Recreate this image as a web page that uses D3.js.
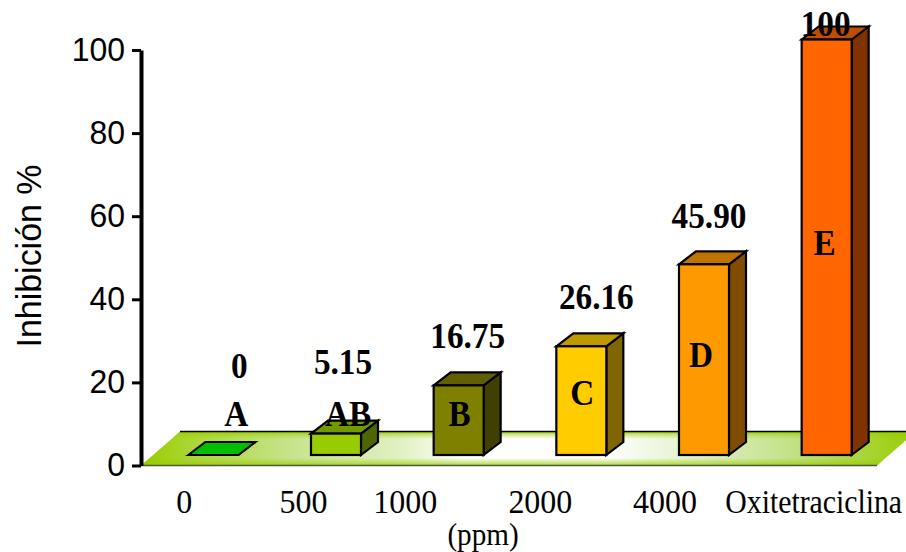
<!DOCTYPE html>
<html>
<head>
<meta charset="utf-8">
<script src="https://cdn.jsdelivr.net/npm/d3@7"></script>
<style>
    html, body { margin: 0; padding: 0; background: #fff; }
    svg { display: block; }
    .serif { font-family: "Liberation Serif", serif; fill: #000; }
    .bold { font-weight: bold; }
    .axis text { font-family: "Liberation Sans", sans-serif; font-size: 34px; fill: #000; }
    .axis path, .axis line { stroke: #000; }
</style>
</head>
<body>
<div id="chart"></div>
<script>
// DATA //
const categories = ["0", "500", "1000", "2000", "4000", "Oxitetraciclina"];
const values = [0, 5.15, 16.75, 26.16, 45.9, 100];
const valueLabels = ["0", "5.15", "16.75", "26.16", "45.90", "100"];
const letters = ["A", "AB", "B", "C", "D", "E"];
const barColors = ["#00ff00", "#99cc00", "#808000", "#ffcc00", "#ff9900", "#ff6600"];
const yTicks = [0, 20, 40, 60, 80, 100];

// DIMENSIONS //
const width = 906;
const height = 552;
const axisX = 141;
const floorDepth = 34;
const floorSlant = 39;
const floorRight = 877;
const barLift = 10.5;
const depthX = 17;
const depthY = 13;
const barWidth = 50;

// hand placed labels in the original, px relative to the bar centre / bar top
const catShift = [-29, -32.5, -53.5, -41, -39, -13];
const valueShiftX = [26, 7, 9, 15, 5, -1];
const valueAbove = [77, 60, 37, 37, 36, 4];
const letterShiftX = [23, 12, 1, 1, -3, -2];
const letterBaseline = [426, 426, 426, 405, 367, 255];

const x = d3.scaleBand().domain(categories).range([152, 888]);
const y = d3.scaleLinear().domain([0, 100]).range([465.5, 50]);

const svg = d3.select("#chart").append("svg").attr("width", width).attr("height", height);

// the text in the original is narrower than these fonts, so squeeze it
const squeeze = (sel, k) => {
    sel.each(function () {
        const len = this.getComputedTextLength();
        d3.select(this).attr("textLength", len * k).attr("lengthAdjust", "spacingAndGlyphs");
    });
};

// floor gradients //
const defs = svg.append("defs");
const floorH = defs.append("linearGradient").attr("id", "floorH");
[
    ["0%", "#99cc00"],
    ["8%", "#b0d840"],
    ["20%", "#c8e490"],
    ["33%", "#e0f0c0"],
    ["42%", "#ffffff"],
    ["60%", "#ffffff"],
    ["72%", "#e0f0c8"],
    ["85%", "#c0e080"],
    ["100%", "#99cc00"],
].forEach((s) => floorH.append("stop").attr("offset", s[0]).attr("stop-color", s[1]));

const floorV = defs.append("linearGradient").attr("id", "floorV").attr("x1", 0).attr("x2", 0).attr("y1", 0).attr("y2", 1);
floorV.append("stop").attr("offset", "0%").attr("stop-color", "#99cc00").attr("stop-opacity", 1);
floorV.append("stop").attr("offset", "10%").attr("stop-color", "#99cc00").attr("stop-opacity", 0.4);
floorV.append("stop").attr("offset", "22%").attr("stop-color", "#99cc00").attr("stop-opacity", 0);
floorV.append("stop").attr("offset", "78%").attr("stop-color", "#99cc00").attr("stop-opacity", 0);
floorV.append("stop").attr("offset", "98%").attr("stop-color", "#99cc00").attr("stop-opacity", 0.7);

const floorPts = [
    [axisX, y(0)],
    [axisX + floorSlant, y(0) - floorDepth],
    [floorRight + floorSlant, y(0) - floorDepth],
    [floorRight, y(0)],
];
const floorPath = d3.line()(floorPts) + "Z";
svg.append("path").attr("d", floorPath).attr("fill", "url(#floorH)");
svg.append("path").attr("d", floorPath).attr("fill", "url(#floorV)");
svg.append("line")
    .attr("x1", floorPts[1][0]).attr("x2", floorPts[2][0])
    .attr("y1", floorPts[1][1]).attr("y2", floorPts[1][1])
    .attr("stroke", "#000").attr("stroke-width", 1.5);
svg.append("line")
    .attr("x1", floorPts[0][0]).attr("x2", floorPts[3][0])
    .attr("y1", y(0)).attr("y2", y(0))
    .attr("stroke", "#4d5a3a").attr("stroke-width", 1.5);

// BARS //
const shade = (hex, k) => {
    const c = d3.rgb(hex);
    return d3.rgb(c.r * k, c.g * k, c.b * k).formatHex();
};
const bars = svg.selectAll(".bar").data(categories).enter().append("g").attr("class", "bar")
    .attr("stroke", "#000").attr("stroke-width", 2.2).attr("stroke-linejoin", "miter");

bars.each(function (d, i) {
    const g = d3.select(this);
    const left = x(d) + (x.bandwidth() - barWidth) / 2;
    const right = left + barWidth;
    const bottom = y(0) - barLift;
    const top = y(values[i]) - barLift;
    g.append("path")
        .attr("fill", shade(barColors[i], 0.5))
        .attr("d", d3.line()([[right, bottom], [right + depthX, bottom - depthY], [right + depthX, top - depthY], [right, top]]) + "Z");
    g.append("path")
        .attr("fill", shade(barColors[i], 0.75))
        .attr("d", d3.line()([[left, top], [left + depthX, top - depthY], [right + depthX, top - depthY], [right, top]]) + "Z");
    g.append("rect")
        .attr("x", left).attr("y", top)
        .attr("width", barWidth).attr("height", bottom - top)
        .attr("fill", barColors[i]);
});

// AXIS //
const yAxis = d3.axisLeft(y).tickValues(yTicks).tickSize(9).tickSizeOuter(0).tickPadding(7);
const axisG = svg.append("g").attr("class", "axis").attr("transform", "translate(" + axisX + ",0)").call(yAxis);
axisG.select(".domain").attr("stroke-width", 4);
axisG.selectAll(".tick line").attr("stroke-width", 3);
axisG.selectAll(".tick text").attr("dy", "0.3em").call(squeeze, 0.94);

svg.append("text")
    .attr("transform", "translate(41,256) rotate(-90)")
    .attr("text-anchor", "middle")
    .style("font-family", '"Liberation Sans", sans-serif')
    .style("font-size", "35px")
    .text("Inhibición %")
    .call(squeeze, 0.97);

// LABELS //
const centre = (d) => x(d) + x.bandwidth() / 2;

// long label sits tighter than the numbers
svg.selectAll(".cat").data(categories).enter().append("text")
    .attr("class", "cat serif")
    .attr("transform", (d, i) => "translate(" + (centre(d) + catShift[i]) + ",513) scale(" + (d === "Oxitetraciclina" ? 0.875 : 0.94) + ",1)")
    .attr("text-anchor", "middle")
    .style("font-size", "34px")
    .text((d) => d);

svg.append("text")
    .attr("class", "serif")
    .attr("x", 483).attr("y", 545)
    .attr("text-anchor", "middle")
    .style("font-size", "31px")
    .text("(ppm)")
    .call(squeeze, 0.94);

svg.selectAll(".val").data(categories).enter().append("text")
    .attr("class", "val serif bold")
    .attr("x", (d, i) => centre(d) + valueShiftX[i])
    .attr("y", (d, i) => y(values[i]) - barLift - valueAbove[i])
    .attr("text-anchor", "middle")
    .style("font-size", "35px")
    .text((d, i) => valueLabels[i])
    .call(squeeze, 0.95);

svg.selectAll(".letter").data(categories).enter().append("text")
    .attr("class", "letter serif bold")
    .attr("x", (d, i) => centre(d) + letterShiftX[i])
    .attr("y", (d, i) => letterBaseline[i])
    .attr("text-anchor", "middle")
    .style("font-size", "35px")
    .text((d, i) => letters[i])
    .call(squeeze, 0.95);
</script>
</body>
</html>
